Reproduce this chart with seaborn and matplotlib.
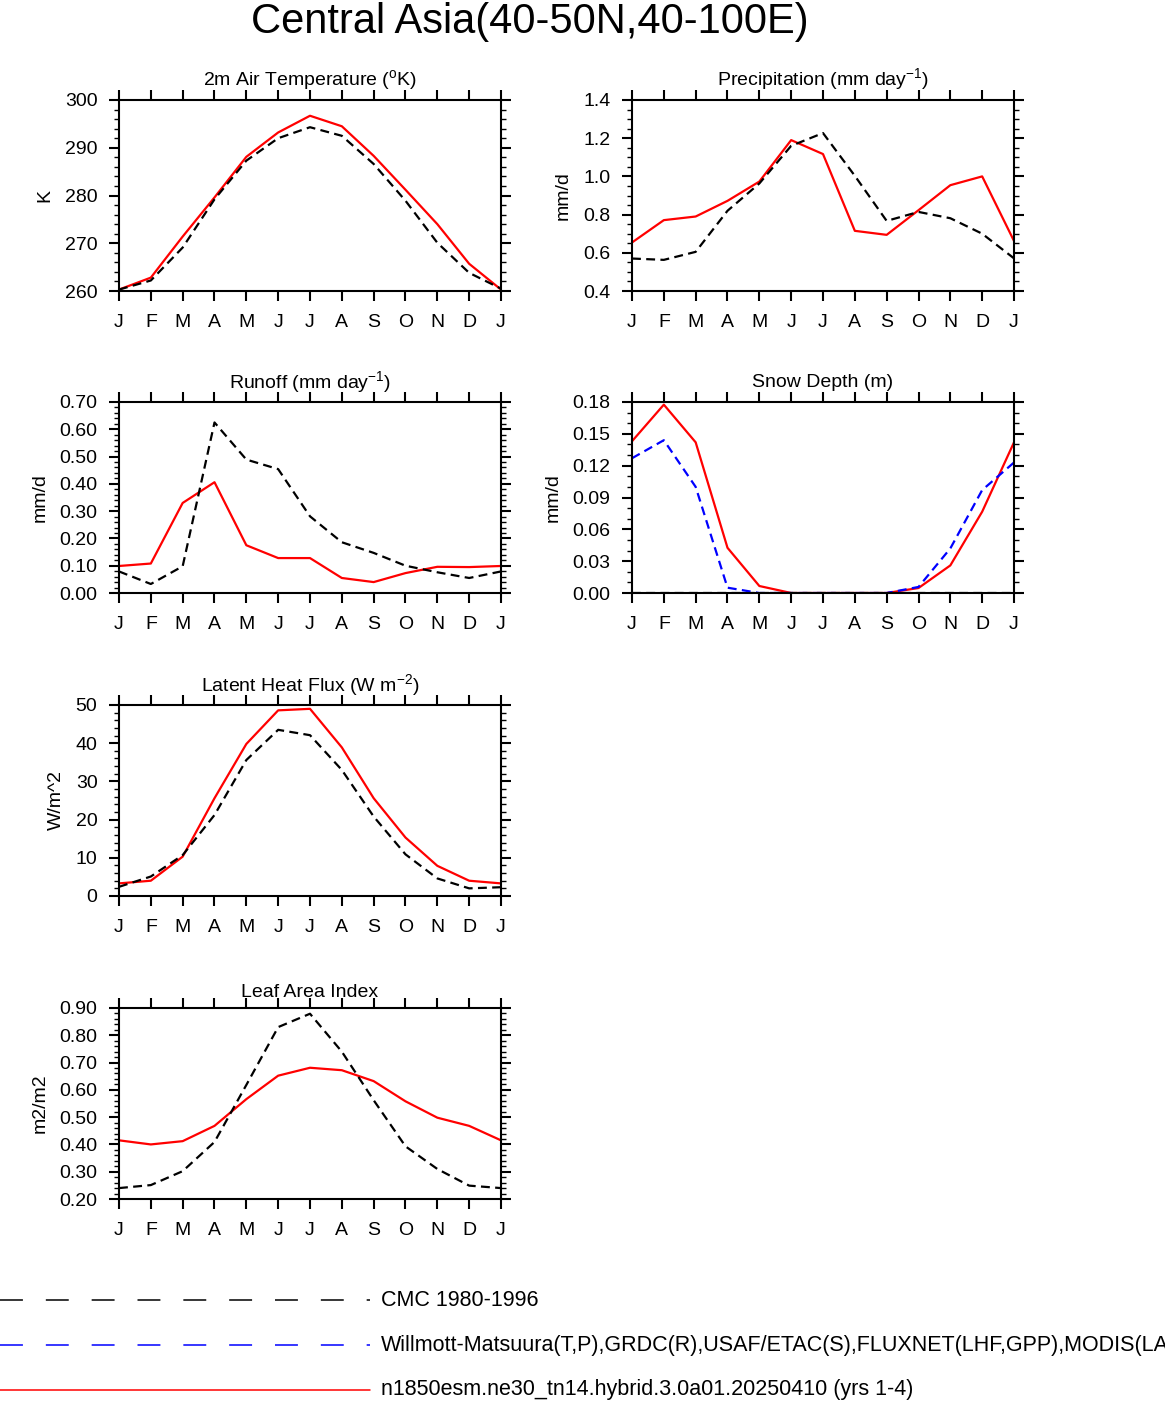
import numpy as np
import pandas as pd
import matplotlib
matplotlib.use('Agg')
import matplotlib.pyplot as plt
from matplotlib.ticker import MultipleLocator, FormatStrFormatter
import seaborn as sns

month_labels = ['J', 'F', 'M', 'A', 'M', 'J', 'J', 'A', 'S', 'O', 'N', 'D', 'J']
months = list(range(13))

# 2m air temperature (K)
tsa_model = [260.3, 262.8, 271.4, 279.6, 288.1, 293.2, 296.7, 294.5, 288.3, 281.2, 274.0, 265.7, 260.3]
tsa_obs = [260.3, 262.2, 269.1, 279.2, 287.3, 292.0, 294.3, 292.5, 286.6, 278.9, 270.1, 263.8, 260.5]

# precipitation (mm/day)
prc_model = [0.654, 0.771, 0.790, 0.872, 0.973, 1.190, 1.117, 0.715, 0.694, 0.823, 0.954, 1.000, 0.662]
prc_obs = [0.570, 0.563, 0.605, 0.820, 0.963, 1.160, 1.227, 1.003, 0.767, 0.814, 0.781, 0.700, 0.571]

# runoff (mm/day)
ro_model = [0.099, 0.108, 0.330, 0.406, 0.175, 0.128, 0.128, 0.055, 0.040, 0.073, 0.096, 0.095, 0.099]
ro_obs = [0.079, 0.033, 0.098, 0.625, 0.489, 0.454, 0.281, 0.186, 0.147, 0.100, 0.076, 0.055, 0.079]

# snow depth (m)
snow_model = [0.143, 0.1775, 0.142, 0.0426, 0.0066, 0.0, 0.0, 0.0, 0.0, 0.0047, 0.026, 0.0766, 0.142]
snow_cmc = [0.0] * 13
snow_usaf = [0.127, 0.144, 0.100, 0.005, 0.0, 0.0, 0.0, 0.0, 0.0, 0.0057, 0.042, 0.097, 0.123]

# latent heat flux (W/m2)
lhf_model = [3.3, 4.0, 10.3, 25.6, 39.8, 48.6, 49.0, 38.9, 25.6, 15.3, 7.9, 4.0, 3.3]
lhf_obs = [2.4, 5.1, 10.7, 21.2, 35.6, 43.5, 42.1, 33.0, 20.8, 10.9, 4.6, 2.0, 2.3]

# leaf area index (m2/m2)
lai_model = [0.415, 0.400, 0.412, 0.468, 0.566, 0.652, 0.681, 0.672, 0.632, 0.558, 0.498, 0.468, 0.415]
lai_obs = [0.240, 0.251, 0.302, 0.409, 0.618, 0.830, 0.879, 0.740, 0.562, 0.393, 0.310, 0.249, 0.240]

legend_labels = ['CMC 1980-1996',
                 'Willmott-Matsuura(T,P),GRDC(R),USAF/ETAC(S),FLUXNET(LHF,GPP),MODIS(LAI)',
                 'n1850esm.ne30_tn14.hybrid.3.0a01.20250410 (yrs 1-4)']
legend_colors = ['#000000', '#0000ff', '#ff0000']

sns.set_theme(style='ticks')
plt.rcParams['font.family'] = ['Liberation Sans', 'DejaVu Sans']
plt.rcParams['mathtext.fontset'] = 'custom'
plt.rcParams['mathtext.rm'] = 'Liberation Sans'
plt.rcParams['mathtext.it'] = 'Liberation Sans:italic'
for k in ['text.color', 'axes.labelcolor', 'xtick.color', 'ytick.color', 'axes.edgecolor']:
    plt.rcParams[k] = 'black'

DASH = (0, (4, 2.4))

panels = [
    dict(title=r'2m Air Temperature ($\mathrm{^o}$K)', ylabel='K', ylim=(260, 300), major=10, minor=2, fmt='%d',
         lines=[(tsa_model, 'red', '-'), (tsa_obs, 'black', DASH)], pos=(0, 0), toff=15),
    dict(title=r'Precipitation (mm day$\mathrm{^{-1}}$)', ylabel='mm/d', ylim=(0.4, 1.4), major=0.2, minor=0.05, fmt='%.1f',
         lines=[(prc_model, 'red', '-'), (prc_obs, 'black', DASH)], pos=(0, 1), toff=15),
    dict(title=r'Runoff (mm day$\mathrm{^{-1}}$)', ylabel='mm/d', ylim=(0, 0.7), major=0.1, minor=0.02, fmt='%.2f',
         lines=[(ro_model, 'red', '-'), (ro_obs, 'black', DASH)], pos=(1, 0), toff=14),
    dict(title='Snow Depth (m)', ylabel='mm/d', ylim=(0, 0.18), major=0.03, minor=0.01, fmt='%.2f',
         lines=[(snow_model, 'red', '-'), (snow_cmc, 'black', DASH), (snow_usaf, 'blue', DASH)], pos=(1, 1), toff=15),
    dict(title=r'Latent Heat Flux (W m$\mathrm{^{-2}}$)', ylabel='W/m^2', ylim=(0, 50), major=10, minor=2, fmt='%d',
         lines=[(lhf_model, 'red', '-'), (lhf_obs, 'black', DASH)], pos=(2, 0), toff=14),
    dict(title='Leaf Area Index', ylabel='m2/m2', ylim=(0.2, 0.9), major=0.1, minor=0.02, fmt='%.2f',
         lines=[(lai_model, 'red', '-'), (lai_obs, 'black', DASH)], pos=(3, 0), toff=11),
]

W, H = 1165, 1402
col_x = [119, 632]
row_top = [100, 402, 705, 1008]
ax_w, ax_h = 382, 191

fig = plt.figure(figsize=(W / 100, H / 100), dpi=100)

for p in panels:
    r, c = p['pos']
    ax = fig.add_axes([col_x[c] / W, 1 - (row_top[r] + ax_h) / H, ax_w / W, ax_h / H])
    for vals, color, ls in p['lines']:
        sns.lineplot(x=months, y=vals, ax=ax, color=color, linestyle=ls, linewidth=1.6)
    ax.set_xlim(0, 12)
    ax.set_ylim(*p['ylim'])
    ax.set_xticks(months)
    ax.set_xticklabels(month_labels)
    ax.yaxis.set_major_locator(MultipleLocator(p['major']))
    ax.yaxis.set_minor_locator(MultipleLocator(p['minor']))
    ax.yaxis.set_major_formatter(FormatStrFormatter(p['fmt']))
    ax.tick_params(which='both', direction='out', top=True, right=True, labelsize=14, color='black')
    ax.tick_params(axis='x', which='major', length=7.5, width=1.5, pad=9)
    ax.tick_params(axis='y', which='major', length=7.5, width=1.5, pad=8)
    ax.tick_params(axis='y', which='minor', length=3.6, width=1.0)
    ax.tick_params(axis='x', which='minor', bottom=False, top=False)
    for s in ax.spines.values():
        s.set_linewidth(1.5)
        s.set_color('black')
    ax.set_ylabel(p['ylabel'], fontsize=14, labelpad=8)
    ax.set_xlabel('')
    ax.text(0.5, 1 + p['toff'] / ax_h, p['title'], transform=ax.transAxes, ha='center', va='baseline', fontsize=14)

fig.text(529.5 / W, 1 - 33 / H, 'Central Asia(40-50N,40-100E)', ha='center', va='baseline', fontsize=30)

# legend drawn at the bottom of the page
lax = fig.add_axes([0, 0, 1, 1], zorder=-1)
lax.set_xlim(0, W)
lax.set_ylim(H, 0)
lax.axis('off')
for i, (lab, col) in enumerate(zip(legend_labels, legend_colors)):
    yy = 1300 + 45 * i
    ls = '-' if i == 2 else (0, (15, 15))
    lax.plot([0, 370], [yy, yy], color=col, linewidth=1.1, linestyle=ls)
    lax.text(381, yy, lab, ha='left', va='center', fontsize=15.5)

fig.savefig('out.png', dpi=100)
